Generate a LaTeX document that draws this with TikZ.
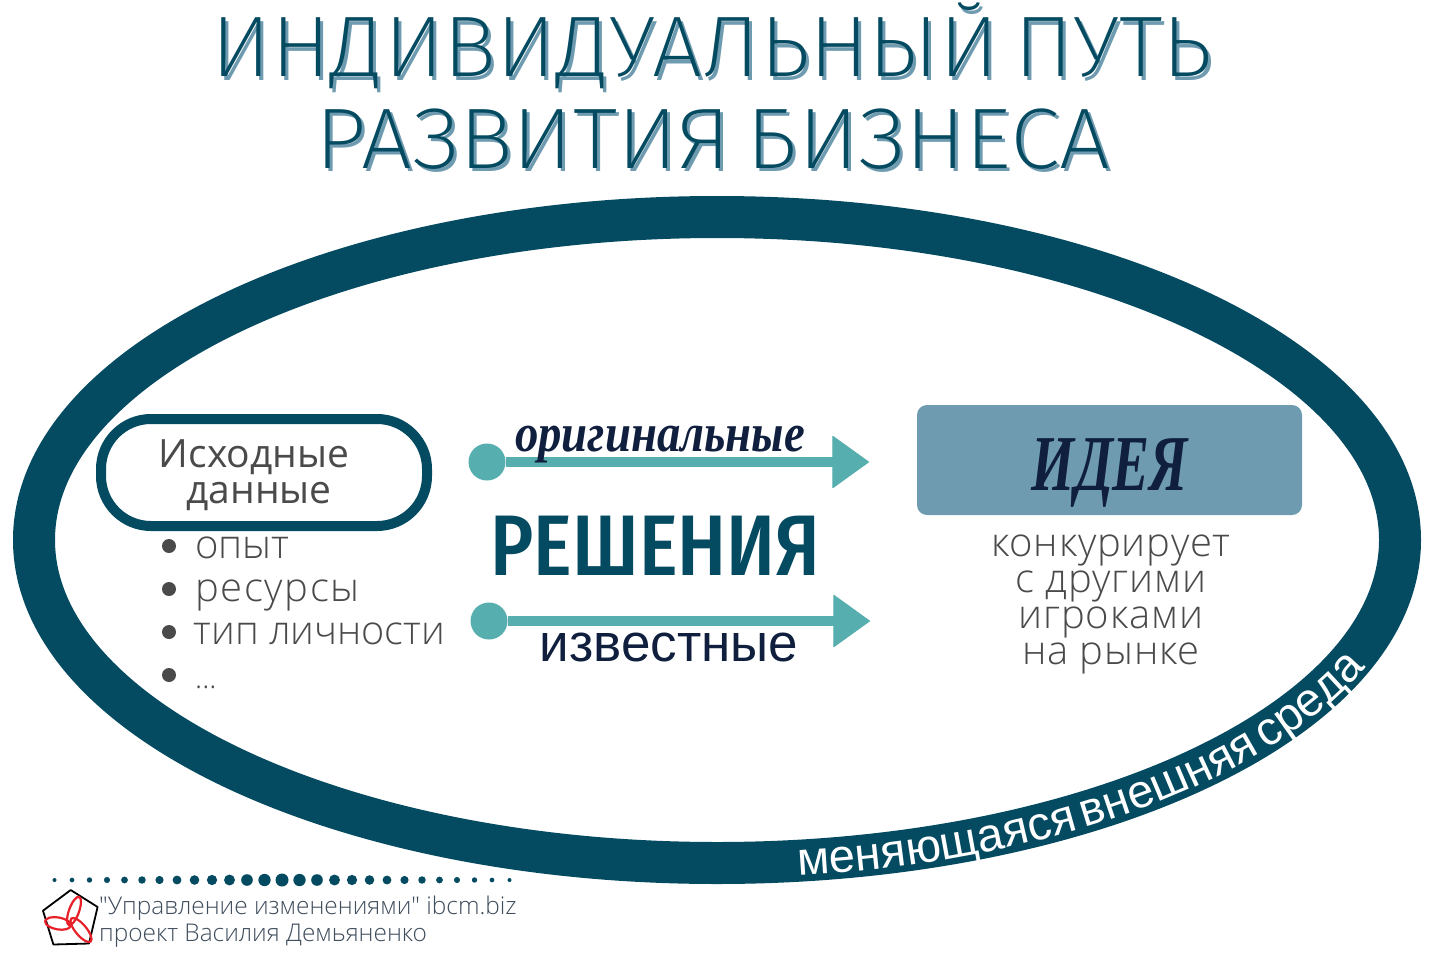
\documentclass[tikz,border=0pt]{standalone}
\usepackage{fontspec}
\usetikzlibrary{shapes.geometric,decorations.text,arrows.meta}
\setmainfont{Open Sans Light}
\newfontfamily\ttlfont{Fira Sans ExtraLight}
\newfontfamily\bodyfont{Open Sans Light}
\newfontfamily\bodyspaced{Open Sans Light}[LetterSpace=2]
\newfontfamily\bodywide{Open Sans Light}[LetterSpace=4]
\newfontfamily\regfont{Open Sans}
\newfontfamily\arialfont{Liberation Sans}
\newfontfamily\condfont{Fira Sans Condensed Medium}
\newfontfamily\handfont{Liberation Serif}
\definecolor{deep}{HTML}{044A60}
\definecolor{steel}{HTML}{6F9BB0}
\definecolor{tealx}{HTML}{57AEAE}
\definecolor{ink}{HTML}{0F1F3D}
\definecolor{greyt}{HTML}{4A4A4A}
\definecolor{foot}{HTML}{3F4D5C}
\definecolor{logored}{HTML}{E8202A}
\newcommand{\ttlone}{\scalebox{1.035}[1]{ИНДИВИДУАЛЬНЫЙ\hspace{.18em}ПУТЬ}}
\newcommand{\ttltwo}{\scalebox{1.05}[1]{РАЗВИТИЯ\hspace{.18em}БИЗНЕСА}}
\tikzset{
  x=1pt,y=-1pt,
  ttl/.style={anchor=base,inner sep=0pt,font=\ttlfont\fontsize{86}{86}\selectfont},
  body/.style={inner sep=0pt,text=greyt,font=\bodyfont\fontsize{40}{40}\selectfont},
  bodyc/.style={inner sep=0pt,text=greyt,font=\bodyspaced\fontsize{40}{40}\selectfont},
  bodyh/.style={inner sep=0pt,text=greyt,font=\regfont\fontsize{39}{39}\selectfont},
  bdot/.style={circle,fill=greyt,inner sep=0pt,minimum size=14pt},
  startdot/.style={circle,fill=tealx,inner sep=0pt,minimum size=37pt},
  conn/.style={draw=tealx,line width=10pt,-{Triangle[length=37pt,width=53pt,line width=1pt,round]}},
  foottext/.style={anchor=base west,inner sep=0pt,text=foot,font=\bodyfont\fontsize{24.4}{24.4}\selectfont},
  logoring/.style={draw=logored,line width=2.2pt},
}
\begin{document}
\begin{tikzpicture}
\fill[white] (0,0) rectangle (1434,966);
\useasboundingbox (0,0) rectangle (1434,966);
% title
\node[ttl,text=steel] (t1s) at (715,80) {\ttlone};
\node[ttl,text=deep] (t1) at (712,77) {\ttlone};
\node[ttl,text=steel] (t2s) at (716,171) {\ttltwo};
\node[ttl,text=deep] (t2) at (713,168) {\ttltwo};
% ellipse
\node[ellipse,draw=deep,line width=42pt,inner sep=0pt,minimum width=1366pt,minimum height=646pt] (env) at (717,540) {};
\path[decorate,decoration={text along path,text align={left},
  text={|\arialfont\fontsize{47}{47}\selectfont\spaceskip=.14em\color{white}|меняющаяся внешняя среда}}]
  plot[domain=83.3:16,samples=80] ({717+700*cos(\x)},{540+338*sin(\x)});
% left box
\node[draw=deep,line width=10pt,rounded corners=50pt,inner sep=0pt,minimum width=326pt,minimum height=107pt] (src) at (264,472.5) {};
\node[bodyh,anchor=base] (s1) at (254,467) {Исходные};
\node[bodyh,anchor=base] (s2) at (259,503) {данные};
\node[bdot] (b1) at (169,546) {};
\node[bdot] (b2) at (169,589) {};
\node[bdot] (b3) at (169,632) {};
\node[bdot] (b4) at (169,675) {};
\node[body,anchor=base west] (l1) at (195,558) {опыт};
\node[body,anchor=base west,font=\bodywide\fontsize{40}{40}\selectfont] (l2) at (195,601) {ресурсы};
\node[body,anchor=base west] (l3) at (193.5,644) {\scalebox{.99}[1]{тип личности}};
\node[body,anchor=base west,font=\bodyfont\fontsize{30}{30}\selectfont] (l4) at (195,688) {...};
% arrows
\node[startdot] (a1) at (487,462) {};
\coordinate (a1e) at (869,462);
\draw[conn] (a1) -- (a1e);
\node[startdot] (a2) at (489,621) {};
\coordinate (a2e) at (870,621);
\draw[conn] (a2) -- (a2e);
\node[anchor=base,inner sep=0pt,text=ink,font=\handfont\bfseries\itshape\fontsize{50}{50}\selectfont] (orig) at (660,451) {\scalebox{.935}[1.08]{оригинальные}};
\node[anchor=base,inner sep=0pt,text=deep,font=\condfont\fontsize{86}{86}\selectfont] (res) at (655.5,575) {\scalebox{.94}[1]{РЕШЕНИЯ}};
\node[anchor=base,inner sep=0pt,text=ink,font=\arialfont\fontsize{53}{53}\selectfont] (known) at (669,661) {известные};
% idea
\node[fill=steel,rounded corners=10pt,inner sep=0pt,minimum width=385pt,minimum height=110pt] (idea) at (1109.5,460) {};
\node[anchor=base,inner sep=0pt,text=ink,font=\handfont\bfseries\itshape\fontsize{66}{66}\selectfont] (ideat) at (1110,490) {\scalebox{.84}[1.2]{ИДЕЯ}};
\node[bodyc,anchor=base] (c1) at (1111,556) {конкурирует};
\node[bodyc,anchor=base] (c2) at (1111,592) {с другими};
\node[bodyc,anchor=base] (c3) at (1111,628) {игроками};
\node[bodyc,anchor=base] (c4) at (1111,664) {на рынке};
% footer dots
\foreach \i in {0,...,26}{
  \pgfmathsetmacro\px{54.5+17.5*\i}
  \pgfmathsetmacro\pr{2+4.5*(1-abs(\px-282)/228)}
  \fill[deep] (\px,880) circle[radius=\pr pt];
}
% logo
\draw[black,line width=1.8pt,line join=round] (70.7,890) -- (97.6,907) -- (89,943.5) -- (53.4,944.5) -- (43,910.7) -- cycle;
\draw[logoring,rotate around={70:(74,911)}] (74,911) ellipse[x radius=15,y radius=5];
\draw[logoring,rotate around={-10:(58,923.4)}] (58,923.4) ellipse[x radius=13,y radius=6];
\draw[logoring,rotate around={-50:(81,930)}] (81,930) ellipse[x radius=15,y radius=5.5];
\node[foottext] (f1) at (99,914) {"Управление изменениями" ibcm.biz};
\node[foottext] (f2) at (99,941) {проект Василия Демьяненко};
\end{tikzpicture}
\end{document}
